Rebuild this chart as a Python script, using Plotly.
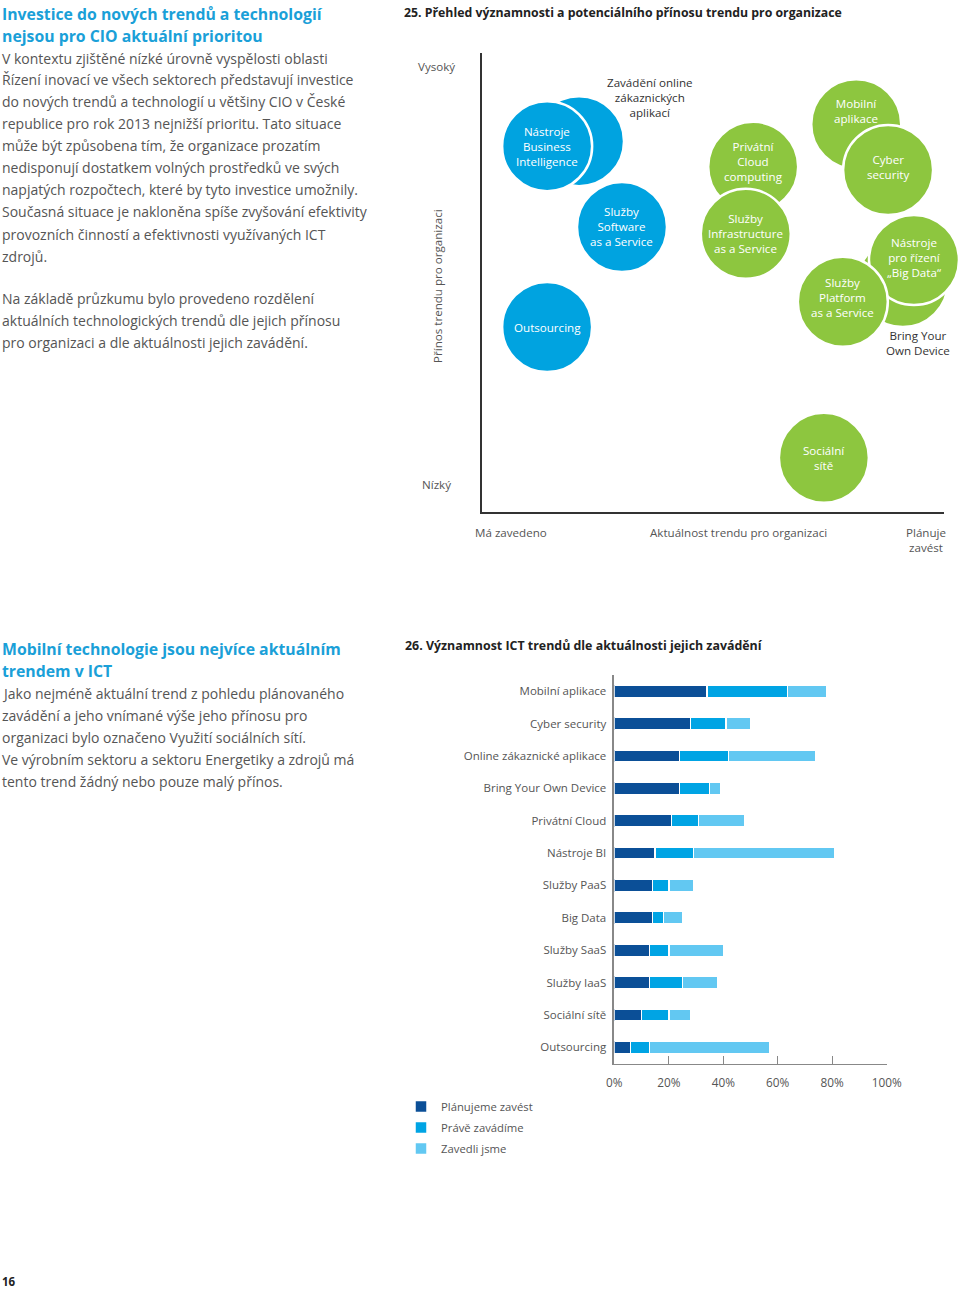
import plotly.graph_objects as go

W, H = 960, 1289
FONT = "Open Sans"

# ---------------- data: chart 25 (bubble map) ----------------
trend_names = ["Zavádění online zákaznických aplikací", "Nástroje Business Intelligence",
               "Služby Software as a Service", "Outsourcing", "Mobilní aplikace", "Cyber security",
               "Privátní Cloud computing", "Služby Infrastructure as a Service", "Bring Your Own Device",
               "Nástroje pro řízení „Big Data“", "Služby Platform as a Service", "Sociální sítě"]
trend_labels = ["Zavádění online<br>zákaznických<br>aplikací", "Nástroje<br>Business<br>Intelligence",
                "Služby<br>Software<br>as a Service", "Outsourcing", "Mobilní<br>aplikace", "Cyber<br>security",
                "Privátní<br>Cloud<br>computing", "Služby<br>Infrastructure<br>as a Service", "Bring Your<br>Own Device",
                "Nástroje<br>pro řízení<br>„Big Data“", "Služby<br>Platform<br>as a Service", "Sociální<br>sítě"]
# aktuálnost (0 = má zavedeno, 100 = plánuje zavést)
trend_actuality = [21.0, 14.1, 30.3, 14.1, 81.0, 87.9, 58.7, 57.1, 91.1, 93.5, 78.1, 74.0]
# přínos (0 = nízký, 100 = vysoký)
trend_benefit = [80.8, 79.7, 62.1, 40.3, 84.5, 74.5, 75.2, 60.6, 50.1, 54.9, 45.8, 11.8]
trend_group = ["blue", "blue", "blue", "blue", "green", "green", "green", "green", "green", "green", "green", "green"]

# ---------------- data: chart 26 (stacked bars) ----------------
categories = ["Mobilní aplikace", "Cyber security", "Online zákaznické aplikace", "Bring Your Own Device",
              "Privátní Cloud", "Nástroje BI", "Služby PaaS", "Big Data", "Služby SaaS", "Služby IaaS",
              "Sociální sítě", "Outsourcing"]
planujeme = [34, 28, 24, 24, 21, 15, 14, 14, 13, 13, 10, 6]
zavadime = [29.5, 13, 18, 11, 10, 14, 6, 4, 7, 12, 10, 7]
zavedli = [14.5, 9, 32, 4, 17, 52, 9, 7, 20, 13, 8, 44]
series_names = ["Plánujeme zavést", "Právě zavádíme", "Zavedli jsme"]
x_ticks = [0, 20, 40, 60, 80, 100]

# ---------------- text ----------------
head1 = ["Investice do nových trendů a technologií", "nejsou pro CIO aktuální prioritou"]
body1 = ["V kontextu zjištěné nízké úrovně vyspělosti oblasti",
         "Řízení inovací ve všech sektorech představují investice",
         "do nových trendů a technologií u většiny CIO v České",
         "republice pro rok 2013 nejnižší prioritu. Tato situace",
         "může být způsobena tím, že organizace prozatím",
         "nedisponují dostatkem volných prostředků ve svých",
         "napjatých rozpočtech, které by tyto investice umožnily.",
         "Současná situace je nakloněna spíše zvyšování efektivity",
         "provozních činností a efektivnosti využívaných ICT",
         "zdrojů."]
body1b = ["Na základě průzkumu bylo provedeno rozdělení",
          "aktuálních technologických trendů dle jejich přínosu",
          "pro organizaci a dle aktuálnosti jejich zavádění."]
head2 = ["Mobilní technologie jsou nejvíce aktuálním", "trendem v ICT"]
body2 = ["Jako nejméně aktuální trend z pohledu plánovaného",
         "zavádění a jeho vnímané výše jeho přínosu pro",
         "organizaci bylo označeno Využití sociálních sítí.",
         "Ve výrobním sektoru a sektoru Energetiky a zdrojů má",
         "tento trend žádný nebo pouze malý přínos."]
title25 = "25. Přehled významnosti a potenciálního přínosu trendu pro organizace"
title26 = "26. Významnost ICT trendů dle aktuálnosti jejich zavádění"

# ---------------- styles ----------------
C_BLUE = "#00a3e0"
C_GREEN = "#8dc63f"
C_HEAD = "#1aa0d8"
C_TEXT = "#555555"
BAR_COLORS = ["#0b4f97", "#00a4e4", "#62c8f2"]
# label offsets (px) inside/around bubbles
label_shift = {0: (71, 44), 4: (0, 13), 5: (0, 3), 6: (0, 5), 8: (15, -61), 9: (0, 3), 10: (0, 4)}
outside_labels = {0, 8}


def px(x):
    return x / W


def py(y):
    return 1 - y / H


fig = go.Figure()

# bubble chart
fig.add_trace(go.Scatter(
    x=trend_actuality, y=trend_benefit, mode="markers", cliponaxis=False,
    marker=dict(size=90, color=[C_BLUE if g == "blue" else C_GREEN for g in trend_group],
                line=dict(color="white", width=2.5), opacity=1),
    hovertext=trend_names, hoverinfo="text", showlegend=False,
    xaxis="x", yaxis="y"))

# stacked bars
for name, vals, col in zip(series_names, [planujeme, zavadime, zavedli], BAR_COLORS):
    fig.add_trace(go.Bar(
        x=vals, y=categories, orientation="h", name=name, legendgroup=name,
        marker=dict(color=col, line=dict(color="white", width=1.5)),
        width=0.38, xaxis="x2", yaxis="y2"))

ann = []
for i, lab in enumerate(trend_labels):
    dx, dy = label_shift.get(i, (0, 0))
    ann.append(dict(x=trend_actuality[i], y=trend_benefit[i], xref="x", yref="y", text=lab,
                    showarrow=False, xshift=dx, yshift=dy,
                    font=dict(family=FONT, size=11.6,
                              color="#333333" if i in outside_labels else "white")))


def txt(x, y, s, size=13, color=C_TEXT, bold=False, xanchor="left", angle=0):
    if bold:
        s = "<b>" + s + "</b>"
    ann.append(dict(x=px(x), y=py(y), xref="paper", yref="paper", text=s, showarrow=False,
                    xanchor=xanchor, yanchor="middle", textangle=angle,
                    font=dict(family=FONT, size=size, color=color)))


# left column texts
for i, s in enumerate(head1):
    txt(0, 14 + 22 * i, s, size=15.8, color=C_HEAD, bold=True)
for i, s in enumerate(body1):
    txt(0, 58 + 22 * i, s, size=14.0)
for i, s in enumerate(body1b):
    txt(0, 299 + 22 * i, s, size=14.0)
for i, s in enumerate(head2):
    txt(0, 649 + 22 * i, s, size=15.8, color=C_HEAD, bold=True)
for i, s in enumerate(body2):
    txt(0, 693 + 22 * i, s, size=14.0)

# chart titles
txt(402, 13, title25, size=12.3, color="#222222", bold=True)
txt(403, 645, title26, size=12.4, color="#222222", bold=True)

# bubble axis labels
LAB = 11.6
txt(436, 67, "Vysoký", size=LAB, xanchor="center")
txt(436, 484, "Nízký", size=LAB, xanchor="center")
txt(511, 532, "Má zavedeno", size=LAB, xanchor="center")
txt(738, 532, "Aktuálnost trendu pro organizaci", size=LAB, xanchor="center")
txt(926, 532, "Plánuje", size=LAB, xanchor="center")
txt(926, 547, "zavést", size=LAB, xanchor="center")
txt(438, 286, "Přínos trendu pro organizaci", size=LAB, xanchor="center", angle=-90)

# page number
txt(0, 1281, "16", size=11.5, color="#222222", bold=True)

fig.update_layout(
    width=W, height=H, margin=dict(l=0, r=0, t=0, b=0, autoexpand=False),
    paper_bgcolor="white", plot_bgcolor="rgba(0,0,0,0)",
    font=dict(family=FONT, color=C_TEXT),
    barmode="stack",
    annotations=ann,
    xaxis=dict(domain=[px(482), px(944)], range=[0, 100], showgrid=False, zeroline=False, automargin=False,
               showticklabels=False, showline=True, linecolor="#333333", linewidth=1.5, fixedrange=True),
    yaxis=dict(domain=[py(512), py(53)], range=[0, 100], showgrid=False, zeroline=False, automargin=False,
               showticklabels=False, showline=True, linecolor="#333333", linewidth=1.5, fixedrange=True),
    xaxis2=dict(domain=[px(614.3), px(886.7)], range=[0, 100], anchor="y2", showgrid=False, automargin=False,
                zeroline=False, tickvals=x_ticks, ticktext=[f"{v}%" for v in x_ticks],
                ticks="inside", ticklen=8, tickcolor="#888888", tickwidth=1,
                showline=True, linecolor="#888888", linewidth=1,
                tickfont=dict(family=FONT, size=11.8, color=C_TEXT), ticklabelstandoff=8),
    yaxis2=dict(domain=[py(1063.5), py(675)], anchor="x2", type="category", automargin=False,
                categoryorder="array", categoryarray=categories, range=[11.5, -0.5],
                showgrid=False, zeroline=False, showline=True, linecolor="#888888", linewidth=1.5,
                ticks="", tickfont=dict(family=FONT, size=11.5, color=C_TEXT), ticklabelstandoff=4),
    legend=dict(x=px(401), y=py(1092), xanchor="left", yanchor="top", orientation="v",
                traceorder="grouped", tracegroupgap=2, font=dict(family=FONT, size=11.3, color=C_TEXT),
                bgcolor="rgba(0,0,0,0)", itemwidth=30),
)

fig.write_html("out.html", config={"displayModeBar": False},
               post_script="document.body.style.margin='0px';")
